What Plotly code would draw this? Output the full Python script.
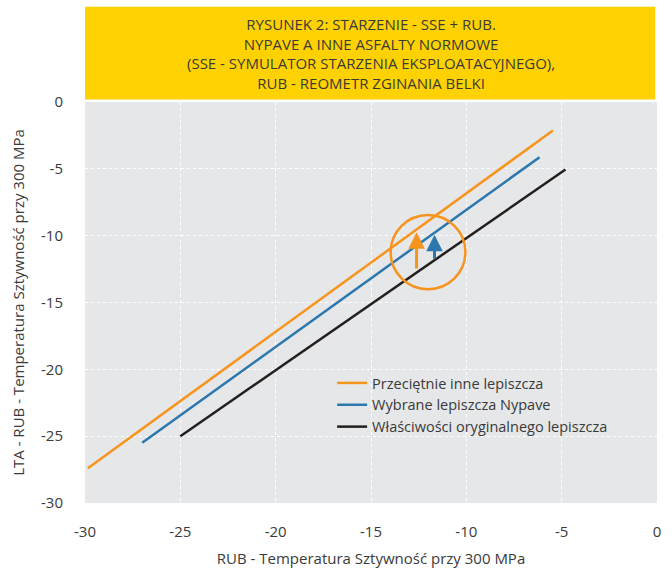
import plotly.graph_objects as go

# Data
series_names = ["Przeciętnie inne lepiszcza", "Wybrane lepiszcza Nypave", "Właściwości oryginalnego lepiszcza"]
series_colors = ["#f7941d", "#2b77ae", "#231f20"]
orange_x = [-29.85, -5.46]
orange_y = [-27.4, -2.13]
blue_x = [-27.0, -6.16]
blue_y = [-25.5, -4.13]
black_x = [-25.0, -4.8]
black_y = [-25.0, -5.05]

# highlight circle (data units) and arrows (tail -> tip)
circle_x = [-13.97, -10.05]
circle_y = [-14.0, -8.45]
arrow_orange = {"x": -12.61, "y_tail": -12.56, "y_tip": -9.75}
arrow_blue = {"x": -11.67, "y_tail": -11.83, "y_tip": -9.93}

title_lines = [
    "RYSUNEK 2: STARZENIE - SSE + RUB.",
    "NYPAVE A INNE ASFALTY NORMOWE",
    "(SSE - SYMULATOR STARZENIA EKSPLOATACYJNEGO),",
    "RUB - REOMETR ZGINANIA BELKI",
]
x_ticks = [-30, -25, -20, -15, -10, -5, 0]
y_ticks = [0, -5, -10, -15, -20, -25, -30]
x_title = "RUB - Temperatura Sztywność przy 300 MPa"
y_title = "LTA - RUB - Temperatura Sztywność przy 300 MPa"

FONT = "Open Sans"
TXT = "#3a3a3a"

fig = go.Figure()
for xs, ys, name, col in zip([orange_x, blue_x, black_x], [orange_y, blue_y, black_y], series_names, series_colors):
    fig.add_trace(go.Scatter(x=xs, y=ys, mode="lines", name=name,
                             line=dict(color=col, width=2.5)))

W, H = 672, 568
L, R, T, B = 85, 15, 102, 65
ph = H - T - B

def py(ypx):
    return (H - B - ypx) / ph

shapes = [
    dict(type="rect", xref="paper", yref="paper", x0=0, x1=0.997,
         y0=py(99.5), y1=py(6.7), fillcolor="#fed200", line=dict(width=0), layer="above"),
    dict(type="circle", xref="x", yref="y", x0=circle_x[0], x1=circle_x[1],
         y0=circle_y[0], y1=circle_y[1], line=dict(color=series_colors[0], width=2.5)),
]

annotations = [dict(text="<br>".join(title_lines), xref="paper", yref="paper", x=0.5, y=py(54),
                    xanchor="center", yanchor="middle", showarrow=False, align="center",
                    font=dict(family=FONT, size=15, color=TXT))]

for arr, col in [(arrow_orange, series_colors[0]), (arrow_blue, series_colors[1])]:
    annotations.append(dict(x=arr["x"], y=arr["y_tip"], ax=arr["x"], ay=arr["y_tail"],
                            xref="x", yref="y", axref="x", ayref="y", text="",
                            showarrow=True, arrowhead=2, arrowsize=1.1, arrowwidth=3,
                            arrowcolor=col))

fig.update_layout(
    width=W, height=H,
    margin=dict(l=L, r=R, t=T, b=B, autoexpand=False),
    paper_bgcolor="white",
    plot_bgcolor="#e6e7e8",
    font=dict(family=FONT, size=15, color=TXT),
    shapes=shapes,
    annotations=annotations,
    legend=dict(x=0.432, y=py(367), xanchor="left", yanchor="top",
                bgcolor="rgba(0,0,0,0)", font=dict(family=FONT, size=14.5, color=TXT),
                itemwidth=30, tracegroupgap=0),
    showlegend=True,
)
fig.update_xaxes(range=[-30, 0], tickvals=x_ticks, ticktext=[str(v) for v in x_ticks],
                 showgrid=True, gridcolor="white", griddash="dot", gridwidth=1.3,
                 zeroline=False, showline=False, ticks="", ticklabelstandoff=18,
                 automargin=False,
                 title=dict(text=x_title, standoff=16, font=dict(size=15)),
                 tickfont=dict(size=15))
fig.update_yaxes(range=[-30, 0], tickvals=y_ticks, ticktext=[str(v) for v in y_ticks],
                 showgrid=True, gridcolor="white", griddash="dot", gridwidth=1.3,
                 zeroline=False, showline=False, ticks="", ticklabelstandoff=21,
                 automargin=False,
                 title=dict(text=y_title, standoff=12, font=dict(size=15)),
                 tickfont=dict(size=15))

fig.write_html("out.html", config={"displayModeBar": False},
               post_script="document.body.style.margin='0';")
